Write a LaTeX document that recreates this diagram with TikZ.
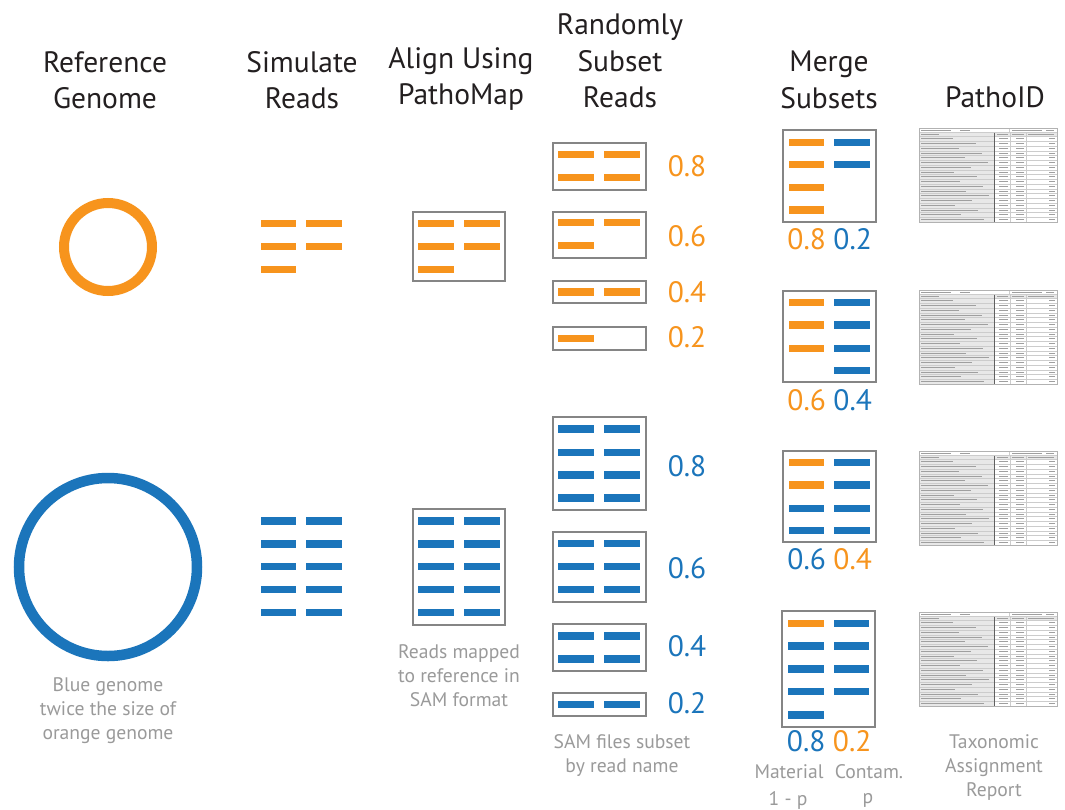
\documentclass[tikz,border=0pt]{standalone}
\usepackage{fontspec}
\setmainfont{PT Sans}
\definecolor{orng}{HTML}{F7941D}
\definecolor{blu}{HTML}{1B75BB}
\definecolor{gtxt}{HTML}{9A9A9A}
\definecolor{gbox}{HTML}{858585}
\definecolor{ink}{HTML}{231F20}
\tikzset{
  boxst/.style={draw=gbox, line width=2pt},
  titlest/.style={align=center, text=ink, inner sep=0pt, font=\fontsize{29.5}{36.5}\selectfont},
  numst/.style={inner sep=0pt, font=\fontsize{29.5}{32}\selectfont},
  notest/.style={align=center, text=gtxt, inner sep=0pt, font=\fontsize{19.6}{24}\selectfont},
  tabtxt/.style={draw=gray!75, line width=0.9pt},
  tabline/.style={draw=gray!40, line width=0.4pt},
}
\newcommand{\rb}[3]{\fill[#3] ({#1-17.75},{#2-3.6}) rectangle ({#1+17.75},{#2+3.6});}
\newcommand{\ptab}[1]{%
\begin{scope}[shift={(0,#1)}]
  \fill[gray!18] (919,4.5) rectangle (994.5,94);
  \fill[gray!18] (919,4.5) rectangle (1057,8.5);
  \foreach \i in {0,...,17}{
    \pgfmathsetmacro\yy{8.5+4.75*\i+2.4}
    \pgfmathsetmacro\yl{8.5+4.75*(\i+1)}
    \pgfmathsetmacro\tlen{32+mod(\i*23,40)}
    \draw[tabtxt] (921,\yy) -- ++(\tlen,0);
    \draw[tabtxt] (1008,\yy) -- ++(-9,0);
    \draw[tabtxt] (1024,\yy) -- ++(-8,0);
    \draw[tabtxt] (1055,\yy) -- ++(-6,0);
    \draw[tabline] (919,\yl) -- (1057,\yl);
  }
  \draw[tabtxt] (921,2.3) -- ++(30,0);
  \draw[tabtxt] (960,2.3) -- ++(10,0);
  \draw[tabtxt] (1012,2.3) -- ++(30,0);
  \draw[tabtxt] (1046,2.3) -- ++(8,0);
  \draw[tabtxt] (921,6.5) -- ++(18,0);
  \draw[tabtxt] (997,6.5) -- ++(11,0);
  \draw[tabtxt] (1012,6.5) -- ++(12,0);
  \draw[tabtxt] (1028,6.5) -- ++(26,0);
  \draw[tabline] (919,4.5) -- (1057,4.5);
  \draw[tabline] (919,8.5) -- (1057,8.5);
  \draw[tabline] (1009.5,0) -- (1009.5,4.5);
  \draw[tabline] (1010,4.5) -- (1010,94);
  \draw[tabline] (1026,4.5) -- (1026,94);
  \draw[draw=gray!75!black, line width=1.3pt] (994.5,4.5) -- (994.5,94);
  \draw[draw=gray!60, line width=0.6pt] (919,0) rectangle (1057,94);
\end{scope}}
\begin{document}
\begin{tikzpicture}[x=1pt,y=-1pt]
\useasboundingbox (0,0) rectangle (1065,809);
\fill[white] (0,0) rectangle (1065,809);

% Titles
\node[titlest] (t1) at (105,80) {Reference\\Genome};
\node[titlest] (t2) at (302,80) {Simulate\\Reads};
\node[titlest] (t3) at (461,79) {Align Using\\PathoMap};
\node[titlest] (t4) at (620,61) {Randomly\\Subset\\Reads};
\node[titlest] (t5) at (829,80) {Merge\\Subsets};
\node[titlest] (t6) at (995,97) {PathoID};

% Genomes
\draw[orng, line width=10pt] (108,247) circle (44);
\draw[blu, line width=10.5pt] (108,567) circle (89);
\node[notest] (n1) at (108,711) {Blue genome\\twice the size of\\orange genome};

% Simulated reads
\foreach \y in {223.3,246.7}{\rb{278.3}{\y}{orng}\rb{324}{\y}{orng}}
\rb{278.3}{269.3}{orng}
\foreach \y in {521,544,566.8,589.7,612.7}{\rb{278.3}{\y}{blu}\rb{324}{\y}{blu}}

% Align
\draw[boxst] (412.7,212.3) rectangle (505.3,280.7);
\foreach \y in {223.3,246.7}{\rb{436.2}{\y}{orng}\rb{482.2}{\y}{orng}}
\rb{436.2}{269.3}{orng}
\draw[boxst] (412.7,509.3) rectangle (505.3,625);
\foreach \y in {521,544,566.8,589.7,612.7}{\rb{436.2}{\y}{blu}\rb{482.2}{\y}{blu}}
\node[notest] (n2) at (459,676) {Reads mapped\\to reference in\\SAM format};

% Random subsets orange
\draw[boxst] (552.7,142.7) rectangle (646,190);
\foreach \y in {154.3,177.3}{\rb{576.2}{\y}{orng}\rb{622}{\y}{orng}}
\node[numst, text=orng] (o8) at (687,166) {0.8};
\draw[boxst] (552.7,211.7) rectangle (646,257.7);
\rb{576.2}{222.7}{orng}\rb{622}{222.7}{orng}\rb{576.2}{245.7}{orng}
\node[numst, text=orng] (o6) at (687,236) {0.6};
\draw[boxst] (552.7,280.7) rectangle (646,303.3);
\rb{576.2}{292}{orng}\rb{622}{292}{orng}
\node[numst, text=orng] (o4) at (687,292.5) {0.4};
\draw[boxst] (552.7,326.7) rectangle (646,350);
\rb{576.2}{338.3}{orng}
\node[numst, text=orng] (o2) at (687,337) {0.2};

% Random subsets blue
\draw[boxst] (552.7,417.3) rectangle (646,510);
\foreach \y in {429,452.3,475,498}{\rb{576.2}{\y}{blu}\rb{622}{\y}{blu}}
\node[numst, text=blu] (b8) at (687,466.5) {0.8};
\draw[boxst] (552.7,532.3) rectangle (646,602.3);
\foreach \y in {543.7,566.7,589.7}{\rb{576.2}{\y}{blu}\rb{622}{\y}{blu}}
\node[numst, text=blu] (b6) at (687,568) {0.6};
\draw[boxst] (552.7,624.3) rectangle (646,670.7);
\foreach \y in {636,659}{\rb{576.2}{\y}{blu}\rb{622}{\y}{blu}}
\node[numst, text=blu] (b4) at (687,646) {0.4};
\draw[boxst] (552.7,692.7) rectangle (646,716);
\rb{576.2}{704.3}{blu}\rb{622}{704.3}{blu}
\node[numst, text=blu] (b2) at (687,703.5) {0.2};
\node[notest] (n3) at (622,756) {SAM files subset\\by read name};

% Merge
\draw[boxst] (783.3,130) rectangle (876,221.7);
\foreach \y in {142.3,164.5,187.7,210}{\rb{806.7}{\y}{orng}}
\rb{852.2}{142.3}{blu}\rb{852.2}{164.5}{blu}
\node[numst, text=orng] (m1a) at (806.7,239) {0.8};
\node[numst, text=blu] (m1b) at (852.7,239) {0.2};

\draw[boxst] (783.3,290.7) rectangle (876,381.7);
\foreach \y in {302.7,325,348.3}{\rb{806.7}{\y}{orng}}
\foreach \y in {302.7,325,348.3,370.7}{\rb{852.2}{\y}{blu}}
\node[numst, text=orng] (m2a) at (806.7,400) {0.6};
\node[numst, text=blu] (m2b) at (852.7,400) {0.4};

\draw[boxst] (783.3,450.7) rectangle (876,541.7);
\rb{806.7}{462.7}{orng}\rb{806.7}{485}{orng}\rb{806.7}{508.3}{blu}\rb{806.7}{530.7}{blu}
\foreach \y in {462.7,485,508.3,530.7}{\rb{852.2}{\y}{blu}}
\node[numst, text=blu] (m3a) at (806.7,559.5) {0.6};
\node[numst, text=orng] (m3b) at (852.7,559.5) {0.4};

\draw[boxst] (782.3,611) rectangle (875,726.7);
\rb{806.2}{623.3}{orng}
\foreach \y in {646,669,691.7,715}{\rb{806.2}{\y}{blu}}
\foreach \y in {623.3,646,669,691.7}{\rb{851.7}{\y}{blu}}
\node[numst, text=blu] (m4a) at (806.2,741) {0.8};
\node[numst, text=orng] (m4b) at (852.2,741) {0.2};
\node[notest] (mat) at (789,772) {Material};
\node[notest] (con) at (869,772) {Contam.};
\node[notest] (omp) at (788,800) {1 - p};
\node[notest] (pp) at (868,800) {p};

% PathoID tables
\ptab{128}
\ptab{290}
\ptab{451}
\ptab{612}
\node[notest] (n4) at (994,768) {Taxonomic\\Assignment\\Report};
\end{tikzpicture}
\end{document}
